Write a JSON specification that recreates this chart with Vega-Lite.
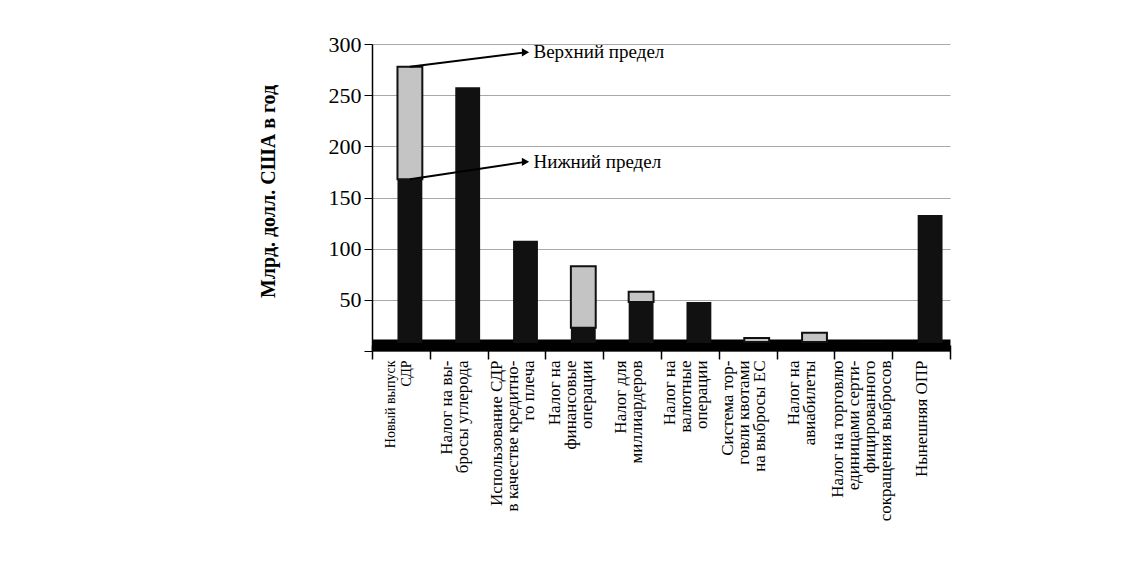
{
  "$schema": "https://vega.github.io/schema/vega-lite/v6.json",
  "autosize": "none",
  "width": 578,
  "height": 307,
  "padding": {"left": 372, "top": 44, "right": 171, "bottom": 236},
  "background": "white",
  "config": {
    "view": {"stroke": null},
    "font": "Liberation Serif"
  },
  "datasets": {
    "bars": [
      {"cat": "Новый выпуск|СДР", "lower": 160, "upper": 270},
      {"cat": "Налог на вы-|бросы углерода", "lower": 250, "upper": 250},
      {"cat": "Использование СДР|в качестве кредитно-|го плеча", "lower": 100, "upper": 100},
      {"cat": "Налог на|финансовые|операции", "lower": 15, "upper": 75},
      {"cat": "Налог для|миллиардеров", "lower": 40, "upper": 50},
      {"cat": "Налог на|валютные|операции", "lower": 40, "upper": 40},
      {"cat": "Система тор-|говли квотами|на выбросы ЕС", "lower": 1, "upper": 5},
      {"cat": "Налог на|авиабилеты", "lower": 1, "upper": 10},
      {"cat": "Налог на торговлю|единицами серти-|фицированного|сокращения выбросов", "lower": 0.5, "upper": 0.5},
      {"cat": "Нынешняя ОПР", "lower": 125, "upper": 125}
    ],
    "arrows": [
      {"name": "Верхний предел", "cat": "Новый выпуск|СДР", "value": 270, "end": false},
      {"name": "Верхний предел", "cat": "Использование СДР|в качестве кредитно-|го плеча", "value": 284, "end": true},
      {"name": "Нижний предел", "cat": "Новый выпуск|СДР", "value": 160, "end": false},
      {"name": "Нижний предел", "cat": "Использование СДР|в качестве кредитно-|го плеча", "value": 177, "end": true}
    ]
  },
  "encoding": {
    "x": {
      "field": "cat",
      "type": "nominal",
      "sort": null,
      "scale": {"paddingInner": 0, "paddingOuter": 0},
      "axis": {
        "title": null,
        "labelAngle": -90,
        "labelExpr": "split(datum.label, '|')",
        "labelFontSize": {"condition": {"test": "datum.value === 'Новый выпуск|СДР'", "value": 14}, "value": 17},
        "labelOffset": {
          "condition": [
            {"test": "datum.value === 'Новый выпуск|СДР'", "value": -10},
            {"test": "length(split(datum.value, '|')) == 2", "value": -12},
            {"test": "length(split(datum.value, '|')) == 3", "value": -20},
            {"test": "length(split(datum.value, '|')) == 4", "value": -26}
          ],
          "value": 0
        },
        "labelLineHeight": 16,
        "labelColor": "black",
        "labelFont": "Liberation Serif",
        "labelPadding": 1,
        "labelLimit": 300,
        "offset": -6,
        "domainColor": "black",
        "domainWidth": 12,
        "tickColor": "black",
        "tickWidth": 1.5,
        "tickSize": 14,
        "tickBand": "extent",
        "grid": false
      }
    },
    "y": {
      "type": "quantitative",
      "scale": {"domain": [0, 300]},
      "axis": {
        "title": "Млрд. долл. США в год",
        "titleFont": "Liberation Serif",
        "titleFontSize": 20,
        "titleFontWeight": "bold",
        "titleColor": "black",
        "titlePadding": 50,
        "titleY": 147,
        "values": [0, 50, 100, 150, 200, 250, 300],
        "labelExpr": "datum.value === 0 ? '' : datum.label",
        "labelFont": "Liberation Serif",
        "labelFontSize": 22,
        "labelColor": "black",
        "labelPadding": 3,
        "domainColor": "black",
        "domainWidth": 1.5,
        "tickColor": "black",
        "tickSize": 8,
        "gridColor": "#a8a8a8",
        "gridWidth": 1.2
      }
    }
  },
  "layer": [
    {
      "data": {"name": "bars"},
      "mark": {"type": "bar", "color": "#111111", "width": {"band": 0.43}, "xOffset": 9, "yOffset": -8, "y2Offset": -8},
      "encoding": {"y": {"field": "lower"}}
    },
    {
      "data": {"name": "bars"},
      "mark": {"type": "bar", "color": "#c4c4c4", "stroke": "#111111", "strokeWidth": 2, "width": {"band": 0.43}, "xOffset": 9, "yOffset": -8, "y2Offset": -8},
      "transform": [{"filter": "datum.upper > datum.lower"}],
      "encoding": {"y": {"field": "lower"}, "y2": {"field": "upper"}}
    },
    {
      "data": {"name": "arrows"},
      "mark": {"type": "line", "color": "black", "strokeWidth": 2, "xOffset": 9, "yOffset": -8},
      "encoding": {"y": {"field": "value"}, "detail": {"field": "name"}}
    },
    {
      "data": {"name": "arrows"},
      "transform": [{"filter": "datum.end"}],
      "mark": {"type": "point", "shape": "triangle-right", "filled": true, "color": "black", "size": 70, "opacity": 1, "xOffset": 9, "yOffset": -8},
      "encoding": {"y": {"field": "value"}}
    },
    {
      "data": {"name": "arrows"},
      "transform": [{"filter": "datum.end"}],
      "mark": {"type": "text", "align": "left", "baseline": "middle", "dx": 17, "dy": -8, "fontSize": 19, "font": "Liberation Serif", "color": "black"},
      "encoding": {"y": {"field": "value"}, "text": {"field": "name"}}
    }
  ]
}
